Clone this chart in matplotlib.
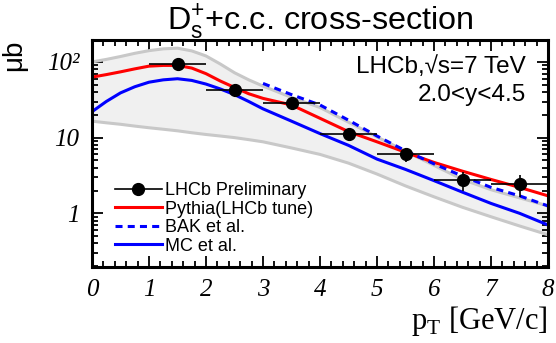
import numpy as np
import matplotlib
matplotlib.use('Agg')
import matplotlib.pyplot as plt
from matplotlib.lines import Line2D
from matplotlib.ticker import FixedLocator, FixedFormatter, MultipleLocator, LogLocator, NullFormatter

#######################################################################
# Data
#######################################################################

# LHCb preliminary points
pt_data = [1.5, 2.5, 3.5, 4.5, 5.5, 6.5, 7.5]
xs_data = [95, 42, 28.5, 11.0, 6.0, 2.75, 2.45]
xs_err = [8, 4, 3, 2.0, 1.3, 0.8, 0.8]
pt_err = [0.5, 0.5, 0.5, 0.5, 0.5, 0.5, 0.5]

# theory curves on a common pT grid
pt_grid = [0, 0.25, 0.5, 0.75, 1, 1.25, 1.5, 1.75, 2, 2.25, 2.5, 2.75, 3,
           3.5, 4, 4.5, 5, 5.5, 6, 6.5, 7, 7.5, 8]
pythia = [63, 68, 74, 81, 88, 90, 90, 83, 70, 56, 46, 38, 33,
          27, 18, 12, 8.8, 6.4, 4.7, 3.6, 2.8, 2.2, 1.7]
mc = [22, 30, 39, 47, 54, 58, 60, 57, 51, 44, 37, 30, 24,
      16.5, 11.3, 7.9, 5.2, 3.8, 2.7, 1.9, 1.35, 1.0, 0.7]
band_hi = [100, 108, 118, 130, 141, 149, 152, 140, 120, 94, 72, 58, 48,
           34, 25, 16, 10.2, 6.6, 4.3, 2.8, 2.05, 1.6, 1.25]
band_lo = [16.5, 15.7, 15, 14.2, 13.5, 12.9, 12.3, 11.6, 11, 10.5, 10, 9.4, 8.8,
           7.3, 6.0, 4.6, 3.3, 2.3, 1.65, 1.2, 0.9, 0.68, 0.52]

pt_bak = [3, 3.5, 4, 4.5, 5, 5.5, 6, 6.5, 7, 7.5, 8]
bak = [52, 37, 27, 17, 10.5, 6.7, 4.5, 3.1, 2.2, 1.7, 1.25]

xtick_vals = [0, 1, 2, 3, 4, 5, 6, 7, 8]
ytick_vals = [1, 10, 100]
ytick_labels = ['1', '10', '10²']

#######################################################################

sans = 'Liberation Sans'
serif = 'Liberation Serif'
plt.rcParams['font.family'] = sans
plt.rcParams['mathtext.fontset'] = 'custom'
plt.rcParams['mathtext.rm'] = sans
plt.rcParams['mathtext.it'] = sans + ':italic'

fig = plt.figure(figsize=(5.56, 3.43), dpi=100)
ax = fig.add_axes([92/556, 1 - 267/343, 456/556, 227/343])

ax.fill_between(pt_grid, band_lo, band_hi, color='#f0f0f0', lw=0)
ax.plot(pt_grid, band_hi, color='#c8c8c8', lw=2.2)
ax.plot(pt_grid, band_lo, color='#c8c8c8', lw=2.2)

l_py, = ax.plot(pt_grid, pythia, color='#ff0000', lw=2.2)
l_bak, = ax.plot(pt_bak, bak, color='#0000ff', lw=2.2, dashes=(2.3, 1.7))
l_mc, = ax.plot(pt_grid, mc, color='#0000ff', lw=2.2)
ax.errorbar(pt_data, xs_data, xerr=pt_err, yerr=xs_err, fmt='o', color='k',
            ms=8.5, elinewidth=1.2, capsize=0)
h_data = Line2D([], [], color='k', marker='o', ms=8.5, lw=1.2)

ax.set_yscale('log')
ax.set_xlim(0, 8)
ax.set_ylim(0.195, 195)

ax.xaxis.set_major_locator(FixedLocator(xtick_vals))
ax.xaxis.set_minor_locator(MultipleLocator(0.2))
ax.yaxis.set_major_locator(FixedLocator(ytick_vals))
ax.yaxis.set_major_formatter(FixedFormatter(ytick_labels))
ax.yaxis.set_minor_locator(LogLocator(base=10, subs=np.arange(2, 10)))
ax.yaxis.set_minor_formatter(NullFormatter())

ax.tick_params(which='both', direction='in', top=True, right=True, width=1.3)
ax.tick_params(which='major', length=8)
ax.tick_params(which='minor', length=4)
ax.tick_params(axis='x', pad=9)
ax.tick_params(axis='y', pad=9)
for lab in ax.get_xticklabels() + ax.get_yticklabels():
    lab.set_fontfamily(serif)
    lab.set_fontstyle('italic')
    lab.set_fontsize(18)
for s in ax.spines.values():
    s.set_linewidth(2.2)

ax.set_xlabel(r'p$_{\mathregular{T}}$ [GeV/c]', fontfamily=serif, fontsize=22, loc='right', labelpad=2)
ax.set_ylabel('μb', fontsize=20, loc='top', labelpad=14)

fig.text(320/556, 1 - 30/343, r'D$_{\mathregular{s}}^{\mathregular{+}}$+c.c. cross-section',
         ha='center', va='baseline', fontsize=23.3)

ax.text(0.952, 0.93, 'LHCb,√s=7 TeV', transform=ax.transAxes, ha='right', va='top', fontsize=17.5)
ax.text(0.952, 0.805, '2.0<y<4.5', transform=ax.transAxes, ha='right', va='top', fontsize=17.5)

ax.legend([h_data, l_py, l_bak, l_mc],
          ['LHCb Preliminary', 'Pythia(LHCb tune)', 'BAK et al.', 'MC et al.'],
          loc='upper left', bbox_to_anchor=(0.05, 0.375), frameon=False, fontsize=13,
          handlelength=2.6, handletextpad=0.2, labelspacing=0.09, borderpad=0, borderaxespad=0)

fig.savefig('out.png', dpi=100)
